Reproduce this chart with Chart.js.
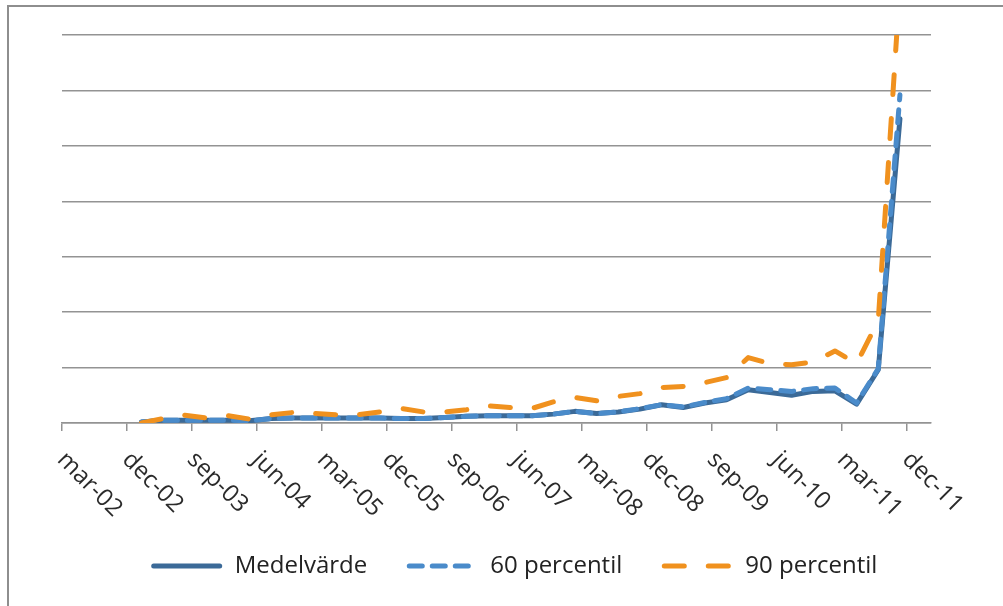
<!DOCTYPE html>
<html>
<head>
<meta charset="utf-8">
<script src="https://cdn.jsdelivr.net/npm/chart.js@4"></script>
<style>
  html, body { margin: 0; padding: 0; background: #fff; }
  #wrap { position: relative; width: 1003px; height: 606px; overflow: hidden; }
  #frame { position: absolute; left: 7px; top: 5px; width: 1100px; height: 700px;
           border-top: 2px solid #8e8e8e; border-left: 2px solid #8e8e8e; }
  canvas { position: absolute; left: 0; top: 0; }
</style>
</head>
<body>
<div id="wrap">
  <div id="frame"></div>
  <canvas id="chart" width="1003" height="606"></canvas>
</div>
<script>
// quarterly observations
const quarters = [
  'feb-03', 'maj-03', 'aug-03', 'nov-03', 'feb-04', 'maj-04', 'aug-04', 'nov-04',
  'feb-05', 'maj-05', 'aug-05', 'nov-05', 'feb-06', 'maj-06', 'aug-06', 'nov-06',
  'feb-07', 'maj-07', 'aug-07', 'nov-07', 'feb-08', 'maj-08', 'aug-08', 'nov-08',
  'feb-09', 'maj-09', 'aug-09', 'nov-09', 'feb-10', 'maj-10', 'aug-10', 'nov-10',
  'feb-11', 'maj-11', 'aug-11', 'nov-11'
];
const medelvarde = [
  0.02, 0.05, 0.05, 0.05, 0.05, 0.04, 0.08, 0.09,
  0.09, 0.09, 0.09, 0.09, 0.08, 0.08, 0.10, 0.12,
  0.13, 0.13, 0.13, 0.16, 0.21, 0.17, 0.20, 0.25,
  0.33, 0.28, 0.36, 0.42, 0.60, 0.55, 0.50, 0.57,
  0.58, 0.34, 0.96, 5.49
];
const percentil60 = [
  0.02, 0.05, 0.05, 0.05, 0.05, 0.04, 0.08, 0.09,
  0.09, 0.09, 0.09, 0.09, 0.08, 0.08, 0.10, 0.12,
  0.13, 0.13, 0.13, 0.16, 0.21, 0.17, 0.20, 0.26,
  0.33, 0.29, 0.37, 0.44, 0.63, 0.60, 0.57, 0.62,
  0.63, 0.36, 0.98, 5.92
];
const percentil90 = [
  0.00, 0.08, 0.14, 0.09, 0.13, 0.07, 0.15, 0.19,
  0.17, 0.15, 0.15, 0.20, 0.26, 0.20, 0.20, 0.24,
  0.31, 0.28, 0.26, 0.38, 0.46, 0.40, 0.48, 0.53,
  0.64, 0.66, 0.73, 0.82, 1.18, 1.07, 1.05, 1.10,
  1.30, 1.07, 1.85, 7.90
];
const tickLabels = [
  'mar-02', 'dec-02', 'sep-03', 'jun-04', 'mar-05', 'dec-05', 'sep-06',
  'jun-07', 'mar-08', 'dec-08', 'sep-09', 'jun-10', 'mar-11', 'dec-11'
];
const yMax = 7;
const xMax = 120.3;   // axis runs on to about mar-12

const monthNames = ['jan', 'feb', 'mar', 'apr', 'maj', 'jun', 'jul', 'aug', 'sep', 'okt', 'nov', 'dec'];
// months counted from mar-02
function monthIndex(lbl) {
  const parts = lbl.split('-');
  return (Number(parts[1]) - 2) * 12 + monthNames.indexOf(parts[0]) - 2;
}
function points(values) {
  return quarters.map((q, i) => ({x: monthIndex(q), y: values[i]}));
}

const gridGrey = '#939393';
const fontFamily = '"Open Sans", sans-serif';
const legendLine = 72;

// excel style labels: start at the tick, run down to the right
const rotatedTicks = {
  id: 'rotatedTicks',
  afterDraw(chart) {
    const ctx = chart.ctx;
    const xs = chart.scales.x;
    ctx.save();
    ctx.font = '24px ' + fontFamily;
    ctx.fillStyle = '#2b2b2b';
    ctx.textAlign = 'left';
    ctx.textBaseline = 'middle';
    tickLabels.forEach(lbl => {
      const px = xs.getPixelForValue(monthIndex(lbl));
      ctx.save();
      ctx.translate(px - 1, xs.top + 33);
      ctx.rotate(Math.PI / 4);
      ctx.fillText(lbl, 0, 0);
      ctx.restore();
    });
    ctx.restore();
  }
};

// the legend's own line sample ignores borderDash, so draw the samples here
const legendSamples = {
  id: 'legendSamples',
  afterDraw(chart) {
    const lg = chart.legend;
    const ctx = chart.ctx;
    lg.legendItems.forEach((item, i) => {
      const hb = lg.legendHitBoxes[i];
      const ds = chart.data.datasets[item.datasetIndex];
      const y = hb.top + hb.height / 2;
      ctx.save();
      ctx.strokeStyle = ds.borderColor;
      ctx.lineWidth = ds.borderWidth;
      ctx.lineCap = 'round';
      ctx.setLineDash(ds.borderDash || []);
      ctx.beginPath();
      ctx.moveTo(hb.left + 3, y);
      ctx.lineTo(hb.left + legendLine - 3, y);
      ctx.stroke();
      ctx.restore();
    });
  }
};

new Chart(document.getElementById('chart'), {
  type: 'line',
  data: {
    datasets: [{
      label: 'Medelvärde',
      data: points(medelvarde),
      borderColor: '#3b6a98',
      backgroundColor: '#3b6a98',
      borderWidth: 5,
      order: 3
    }, {
      label: '60 percentil',
      data: points(percentil60),
      borderColor: '#4a8bca',
      backgroundColor: '#4a8bca',
      borderWidth: 5,
      borderDash: [13, 10],
      order: 2
    }, {
      label: '90 percentil',
      data: points(percentil90),
      borderColor: '#f0911e',
      backgroundColor: '#f0911e',
      borderWidth: 5,
      borderDash: [20, 24],
      order: 1
    }]
  },
  options: {
    responsive: false,
    animation: false,
    events: [],
    elements: {
      point: {radius: 0},
      line: {tension: 0, borderCapStyle: 'round', borderJoinStyle: 'round'}
    },
    layout: {padding: {left: 25, right: 0, top: 35, bottom: 18}},
    scales: {
      x: {
        type: 'linear',
        min: 0,
        max: xMax,
        afterBuildTicks: s => { s.ticks = tickLabels.map(l => ({value: monthIndex(l)})); },
        afterFit: s => { s.height = 92; },
        ticks: {display: false},
        grid: {display: true, drawOnChartArea: false, drawTicks: true, tickLength: 8, color: gridGrey, lineWidth: 1.5},
        border: {display: true, color: gridGrey, width: 1.5}
      },
      y: {
        min: 0,
        max: yMax,
        ticks: {display: false, stepSize: 1},
        afterFit: s => { s.width = 37; },
        grid: {color: gridGrey, lineWidth: 1.5, drawTicks: false},
        border: {display: false}
      },
      y2: {
        position: 'right',
        display: true,
        ticks: {display: false},
        afterFit: s => { s.width = 72; },
        grid: {display: false, drawTicks: false},
        border: {display: false}
      }
    },
    plugins: {
      tooltip: {enabled: false},
      legend: {
        position: 'bottom',
        labels: {
          usePointStyle: true,
          pointStyle: 'line',
          pointStyleWidth: legendLine,
          padding: 39,
          color: '#222',
          font: {family: fontFamily, size: 24},
          sort: (a, b) => a.datasetIndex - b.datasetIndex,
          generateLabels: chart => Chart.defaults.plugins.legend.labels.generateLabels(chart)
            .map(it => Object.assign(it, {strokeStyle: 'rgba(0,0,0,0)'}))
        }
      }
    }
  },
  plugins: [rotatedTicks, legendSamples]
});
</script>
</body>
</html>
